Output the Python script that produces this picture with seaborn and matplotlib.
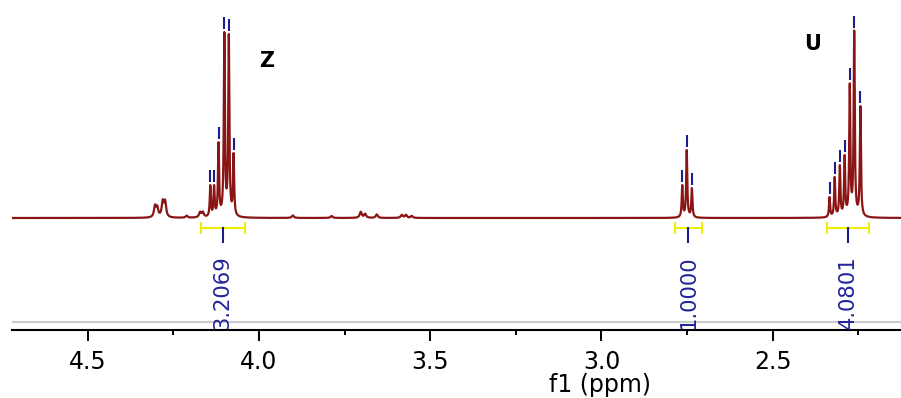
import numpy as np
import pandas as pd
import matplotlib
matplotlib.use("Agg")
import matplotlib.pyplot as plt
from matplotlib import font_manager
import seaborn as sns

# Peak list: chemical shift (ppm) and apparent height of each line
main_ppm = [4.142, 4.131, 4.118, 4.101, 4.088, 4.074,
            2.764, 2.751, 2.736,
            2.334, 2.319, 2.304, 2.290, 2.275, 2.262, 2.244]
main_height = [33, 33, 76, 186, 184, 65,
               33, 68, 30,
               21, 41, 53, 63, 135, 188, 112]

# Weak signals along the baseline (no peak picking)
minor_ppm = [4.3035, 4.297, 4.281, 4.274, 4.211, 4.172, 4.164,
             3.901, 3.788, 3.703, 3.690, 3.656, 3.583, 3.571, 3.554]
minor_height = [11, 9, 15, 15, 2, 5, 5,
                2.5, 2, 6, 4, 3.5, 3, 3, 2]

# Integration regions and their values
integral_from = [4.170, 2.785, 2.342]
integral_to = [4.041, 2.707, 2.219]
integral_value = ["3.2069", "1.0000", "4.0801"]

# Multiplet labels
multiplet_label = ["Z", "U"]
multiplet_ppm = [3.977, 2.383]
multiplet_level = [157, 174]

tick_ppm = [4.5, 4.0, 3.5, 3.0, 2.5]
tick_text = ["4.5", "4.0", "3.5", "3.0", "2.5"]
minor_tick_ppm = [4.25, 3.75, 3.25, 2.75, 2.25]

PPM_LEFT, PPM_RIGHT = 4.721, 2.1254
HW_MAIN, HW_MINOR = 0.0019, 0.0035

SPEC_COLOR = "#8b1414"
PICK_COLOR = "#1c1c8c"
INT_COLOR = "#eeee00"


def lorentz(x, x0, w):
    return w ** 2 / ((x - x0) ** 2 + w ** 2)


# Solve amplitudes so that the summed lineshape reaches each stated height
pos = np.array(main_ppm)
M = lorentz(pos[:, None], pos[None, :], HW_MAIN)
minor_at_main = sum(h * lorentz(pos, p, HW_MINOR) for p, h in zip(minor_ppm, minor_height))
amp = np.linalg.solve(M, np.array(main_height, float) - minor_at_main)

ppm = np.linspace(PPM_LEFT, PPM_RIGHT, 12000)
intensity = np.zeros_like(ppm)
for p, a in zip(main_ppm, amp):
    intensity += a * lorentz(ppm, p, HW_MAIN)
for p, h in zip(minor_ppm, minor_height):
    intensity += h * lorentz(ppm, p, HW_MINOR)

spectrum = pd.DataFrame({"ppm": ppm, "intensity": intensity})

sns.set_style("white")
plt.rcParams["font.family"] = ["DejaVu Sans"]
plt.rcParams["text.color"] = "black"
plt.rcParams["xtick.color"] = "black"
plt.rcParams["axes.labelcolor"] = "black"

available = {f.name for f in font_manager.fontManager.ttflist}
if "Liberation Sans Narrow" in available:
    int_font = dict(family="Liberation Sans Narrow", fontsize=19.5)
else:
    int_font = dict(family="DejaVu Sans", fontsize=15.2)

fig = plt.figure(figsize=(9.01, 3.98), dpi=100)
ax = fig.add_axes([12 / 901, 68 / 398, 889 / 901, 330 / 398])

sns.lineplot(data=spectrum, x="ppm", y="intensity", ax=ax, color=SPEC_COLOR,
             lw=1.6, sort=False, estimator=None, zorder=3)

# Peak picking marks above each line
for p in main_ppm:
    top = np.interp(-p, -ppm, intensity)
    ax.plot([p, p], [top + 3, top + 15], color=PICK_COLOR, lw=1.5,
            solid_capstyle="butt", zorder=4)

# Integral brackets and values
for a, b, v in zip(integral_from, integral_to, integral_value):
    c = (a + b) / 2
    ax.plot([a, b], [-10, -10], color=INT_COLOR, lw=1.5, zorder=2)
    for e in (a, b):
        ax.plot([e, e], [-5, -15], color=INT_COLOR, lw=1.5, zorder=2)
    ax.plot([c, c], [-9, -25], color=PICK_COLOR, lw=1.5,
            solid_capstyle="butt", zorder=2)
    ax.text(c, -111, v, rotation=90, ha="center", va="bottom",
            color="#22229a", zorder=5, **int_font)

for t, p, y in zip(multiplet_label, multiplet_ppm, multiplet_level):
    ax.text(p, y, t, ha="center", va="center", fontsize=15,
            fontweight="bold", color="black")

ax.axhline(-104, color="#cccccc", lw=1.6, zorder=1)

ax.set_xlim(PPM_LEFT, PPM_RIGHT)
ax.set_ylim(-112, 218)
ax.set_yticks([])
ax.set_xticks(tick_ppm)
ax.set_xticklabels(tick_text)
ax.set_xticks(minor_tick_ppm, minor=True)
ax.tick_params(axis="x", which="major", direction="out", length=7.7, width=1.4,
               labelsize=17, pad=6.5, color="black", labelcolor="black", bottom=True)
ax.tick_params(axis="x", which="minor", direction="out", length=3.8, width=1.4,
               color="black", bottom=True)
for side in ("top", "left", "right"):
    ax.spines[side].set_visible(False)
ax.spines["bottom"].set_linewidth(1.5)
ax.spines["bottom"].set_color("black")
ax.patch.set_alpha(0)

ax.set_xlabel("f1 (ppm)", fontsize=17, color="black")
ax.set_ylabel("")
ax.xaxis.set_label_coords((600 - 12) / 889, -0.13)

fig.savefig("out.png", dpi=100)
